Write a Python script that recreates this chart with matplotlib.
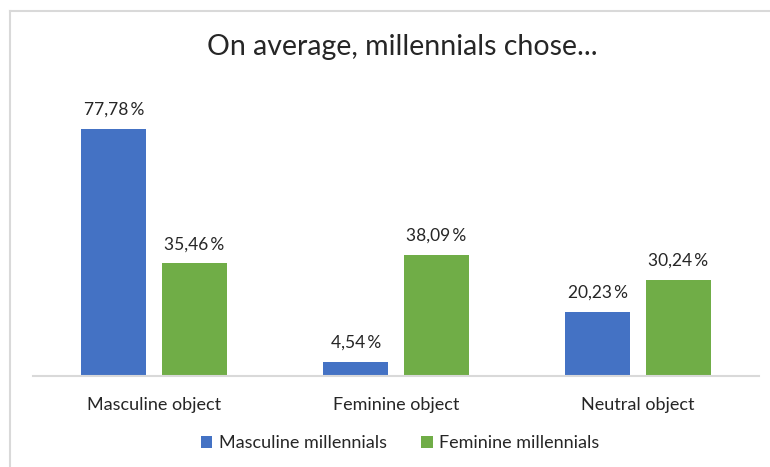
import matplotlib.pyplot as plt
import numpy as np
from matplotlib.lines import Line2D

categories = ["Masculine object", "Feminine object", "Neutral object"]
series_names = ["Masculine millennials", "Feminine millennials"]
masculine_vals = [77.78, 4.54, 20.23]
feminine_vals = [35.46, 38.09, 30.24]

BLUE = "#4472C4"
GREEN = "#70AD47"
TEXT = "#262626"

plt.rcParams["font.family"] = ["Lato", "DejaVu Sans"]

W, H = 770, 467
fig = plt.figure(figsize=(W / 100, H / 100), dpi=100)

# axes placed in pixel terms: baseline at y=376, x from 33 to 759
y_max = 90
px_per_unit = 247 / 77.78
ax_h = y_max * px_per_unit
ax = fig.add_axes([33 / W, (H - 376) / H, (759 - 33) / W, ax_h / H])

x = np.arange(len(categories))
bw = 0.27
off = 0.166
b1 = ax.bar(x - off, masculine_vals, bw, color=BLUE, label=series_names[0])
b2 = ax.bar(x + off, feminine_vals, bw, color=GREEN, label=series_names[1])

for bars, vals in ((b1, masculine_vals), (b2, feminine_vals)):
    for rect, v in zip(bars, vals):
        lbl = f"{v:.2f}".replace(".", ",") + "\u2009%"
        ax.annotate(lbl, (rect.get_x() + rect.get_width() / 2, v),
                    xytext=(0, 8), textcoords="offset points",
                    ha="center", va="bottom", fontsize=12.5, color=TEXT)

ax.set_xlim(-0.5, 2.5)
ax.set_ylim(0, y_max)
ax.set_xticks(x)
ax.set_xticklabels(categories, fontsize=13, color=TEXT)
ax.tick_params(axis="x", length=0, pad=15)
ax.set_yticks([])
for s in ("top", "right", "left"):
    ax.spines[s].set_visible(False)
ax.spines["bottom"].set_color("#D9D9D9")
ax.spines["bottom"].set_linewidth(1.5)

fig.text(402 / W, 1 - 47 / H, "On average, millennials chose...",
         ha="center", va="center", fontsize=20.5, color=TEXT)

fig.legend(handles=[b1, b2], loc="center", bbox_to_anchor=(400 / W, 1 - 443 / H),
           ncol=2, frameon=False, fontsize=13, handlelength=0.65, handleheight=0.65,
           handletextpad=0.35, columnspacing=1.9, labelcolor=TEXT)

# chart frame (only top and left edges visible)
fig.add_artist(Line2D([10 / W, 1], [1 - 11 / H, 1 - 11 / H], color="#D9D9D9", lw=1.5))
fig.add_artist(Line2D([10 / W, 10 / W], [0, 1 - 11 / H], color="#D9D9D9", lw=1.5))

fig.savefig("out.png", dpi=100)
